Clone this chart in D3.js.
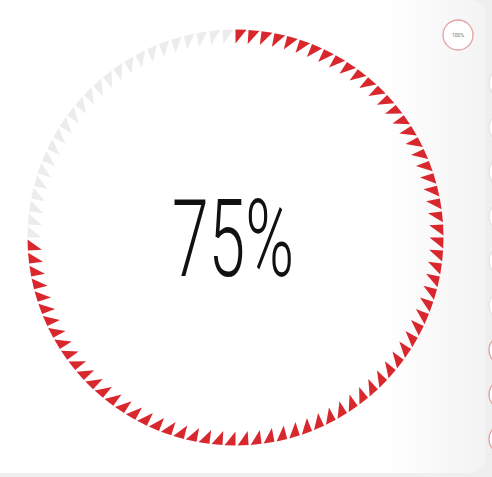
<!DOCTYPE html>
<html>
<head>
<meta charset="utf-8">
<script src="https://cdn.jsdelivr.net/npm/d3@7"></script>
<style>
html,body{margin:0;padding:0;background:#efefef;}
svg{display:block;}
</style>
</head>
<body>
<svg id="chart" width="492" height="477"></svg>
<script>
// ---- data ----
const percentValue = 75;          // gauge value (%)
const segmentTotal = 100;         // number of teeth around the dial
const centerLabel = "75%";
const presetLabels = ["100%","90%","80%","70%","60%","50%","40%","30%","20%","10%"];
const presetHighlight = [true,false,false,false,false,false,false,true,true,true];

const W = 492, H = 477;
const svg = d3.select("#chart");
const defs = svg.append("defs");

// card shadow gradient on the right
const grad = defs.append("linearGradient").attr("id","shade").attr("x1","0").attr("x2","1").attr("y1","0").attr("y2","0");
grad.append("stop").attr("offset","0").attr("stop-color","#ffffff");
grad.append("stop").attr("offset","0.8").attr("stop-color","#ffffff");
grad.append("stop").attr("offset","1").attr("stop-color","#f3f3f3");

// background card
svg.append("rect").attr("x",-20).attr("y",0).attr("width",506).attr("height",473)
  .attr("rx",16).attr("fill","url(#shade)");

// ---- gauge ----
const cx = 235.5, cy = 237.5;
const rOuter = 208, rInner = 194;
const idx = d3.range(segmentTotal);
const angle = d3.scaleLinear().domain([0, segmentTotal]).range([0, 2*Math.PI]);
const color = d => d < percentValue ? "#d9272e" : "#ececec";

const g = svg.append("g").attr("transform",`translate(${cx},${cy})`);
const pt = (a, r) => [r*Math.sin(a), -r*Math.cos(a)];
g.selectAll("path.tooth").data(idx).join("path")
  .attr("class","tooth")
  .attr("d", d => {
    const a0 = angle(d), a1 = angle(d + 0.84);
    const p1 = pt(a0, rOuter), p2 = pt(a1, rOuter), p3 = pt(a0, rInner);
    return `M${p1}L${p2}L${p3}Z`;
  })
  .attr("fill", color);

// center label
svg.append("text")
  .attr("x", 233).attr("y", 276)
  .attr("text-anchor","middle")
  .attr("textLength", 122).attr("lengthAdjust","spacingAndGlyphs")
  .style("font-family","Roboto, 'DejaVu Sans', sans-serif")
  .style("font-weight", 300)
  .style("font-size","108px")
  .attr("fill","#111")
  .text(centerLabel);

// ---- preset buttons on the right ----
const btn = svg.append("g");
presetLabels.forEach((lab, i) => {
  const bx = i === 0 ? 458 : 504;
  const by = i === 0 ? 35 : 83 + (i-1)*44.5;
  const gg = btn.append("g").attr("transform",`translate(${bx},${by})`);
  gg.append("circle").attr("r",15).attr("fill","#fff")
    .attr("stroke", presetHighlight[i] ? "#e3a1a4" : "#e4e4e4").attr("stroke-width",1.3);
  gg.append("text").attr("text-anchor","middle").attr("dy","0.35em")
    .style("font-family","Roboto, sans-serif").style("font-size","5px")
    .attr("fill","#777").text(lab);
});
</script>
</body>
</html>
